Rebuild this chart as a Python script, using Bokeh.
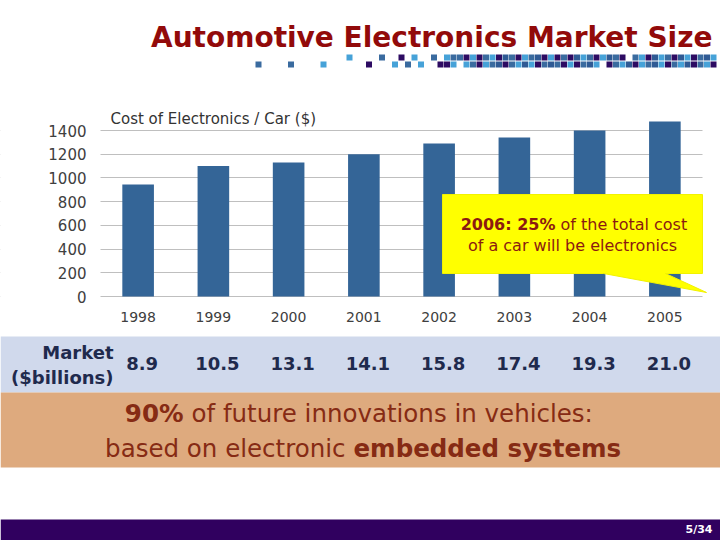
from bokeh.plotting import figure
from bokeh.models import Range1d, FixedTicker, LinearScale, LinearAxis, Grid
from bokeh.embed import file_html
from bokeh.resources import INLINE
from bokeh.core.properties import value

# ---------------- data ----------------
years = ["1998", "1999", "2000", "2001", "2002", "2003", "2004", "2005"]
cost_per_car = [945, 1100, 1130, 1200, 1290, 1340, 1400, 1475]
market_billions = [8.9, 10.5, 13.1, 14.1, 15.8, 17.4, 19.3, 21.0]
y_ticks = [0, 200, 400, 600, 800, 1000, 1200, 1400]

title_text = "Automotive Electronics Market Size"
chart_title = "Cost of Electronics / Car ($)"
callout_bold = "2006: 25%"
callout_rest = "of the total cost"
callout_line2 = "of a car will be electronics"
market_label = ["Market", "($billions)"]
banner1_bold, banner1_rest = "90%", "of future innovations in vehicles:"
banner2_rest, banner2_bold = "based on electronic", "embedded systems"
page_no = "5/34"

# decorative square strip (two rows), '.' = empty
sq_rows = [
    "..............b....a..c.b..a.baacbcabcdacbadcbcacdbacbdac.abcdbacdbcadbcdc",
    "a....a....b......c...b.a.b..ccb.bacbadcabdbcadacbcadb.cabdcbadbcabdcabcd",
]
sq_colors = {"a": "#3a6b9f", "b": "#46a2d8", "c": "#2d0b62", "d": "#2f5a94"}

FONT = value("DejaVu Sans")
idx = list(range(len(years)))

# page-pixel coordinate system for the whole slide
p = figure(width=720, height=540, x_range=Range1d(0, 720), y_range=Range1d(540, 0),
           output_backend="svg", toolbar_location=None, min_border=0,
           x_axis_location=None, y_axis_location=None)
p.grid.visible = False
p.outline_line_color = None
p.background_fill_color = "white"

# chart coordinate systems (categories / dollars) mapped onto the chart area
CH_L, CH_R, PX_ZERO, PX_1400 = 100, 702, 296, 130
cat_w = (CH_R - CH_L) / len(years)
p.extra_x_ranges = {"cx": Range1d(-0.5 - CH_L / cat_w, -0.5 + (720 - CH_L) / cat_w)}
p.extra_x_scales = {"cx": LinearScale()}
upp = 1400 / (PX_ZERO - PX_1400)
p.extra_y_ranges = {"cy": Range1d(-(540 - PX_ZERO) * upp, PX_ZERO * upp)}
p.extra_y_scales = {"cy": LinearScale()}

# ---------------- header ----------------
p.text(x=[712], y=[37], text=[title_text], text_align="right", text_baseline="middle",
       text_font=FONT, text_font_style="bold", text_font_size="28px", text_color="#920A0A")

sl, sr, st, sb, sc = [], [], [], [], []
for r, row in enumerate(sq_rows):
    for c, ch in enumerate(row):
        if ch in sq_colors:
            x0 = 255 + 6.5 * c
            if x0 > 716:
                continue
            y0 = 54 + 7 * r
            sl.append(x0); sr.append(x0 + 6); st.append(y0); sb.append(y0 + 6)
            sc.append(sq_colors[ch])
p.quad(left=sl, right=sr, top=st, bottom=sb, color=sc, line_color=None)

# ---------------- bar chart ----------------
yax = LinearAxis(y_range_name="cy", fixed_location=CH_L, ticker=FixedTicker(ticks=y_ticks))
xax = LinearAxis(x_range_name="cx", fixed_location=PX_ZERO, ticker=FixedTicker(ticks=idx),
                 major_label_overrides={i: y for i, y in zip(idx, years)})
for ax in (yax, xax):
    ax.axis_line_color = None
    ax.major_tick_line_color = None
    ax.minor_tick_line_color = None
    ax.major_tick_out = 0
    ax.major_tick_in = 0
    ax.major_label_text_font = "DejaVu Sans"
    ax.major_label_text_color = "#404040"
yax.major_label_standoff = 14
yax.major_label_text_font_size = "15px"
xax.major_label_standoff = 15
xax.major_label_text_font_size = "14px"
p.add_layout(yax, "left")
p.add_layout(xax, "below")
p.add_layout(Grid(dimension=1, ticker=yax.ticker, x_range_name="cx", y_range_name="cy",
                  grid_line_color="#bfbfbf", grid_line_width=1))
# keep gridlines inside the chart area
p.quad(left=[0, CH_R], right=[CH_L, 720], top=[120, 120], bottom=[300, 300],
       color="white", line_color=None)

p.vbar(x=idx, top=cost_per_car, width=0.42, color="#346597", line_color=None,
       x_range_name="cx", y_range_name="cy")

p.text(x=[110], y=[118], text=[chart_title], text_align="left", text_baseline="middle",
       text_font=FONT, text_font_size="15px", text_color="#333333")

# callout
p.patch(x=[442, 702, 702, 665, 706, 603, 442], y=[194, 194, 273, 273, 292, 273, 273],
        color="#FFFF00", line_color="#F2F200")
p.text(x=[555], y=[224], text=[callout_bold], text_align="right", text_baseline="middle",
       text_font=FONT, text_font_style="bold", text_font_size="16px", text_color="#8B1A10")
p.text(x=[560], y=[224], text=[callout_rest], text_align="left", text_baseline="middle",
       text_font=FONT, text_font_size="16px", text_color="#8B1A10")
p.text(x=[572], y=[245], text=[callout_line2], text_align="center", text_baseline="middle",
       text_font=FONT, text_font_size="16px", text_color="#8B1A10")

# ---------------- bands ----------------
p.quad(left=[0, 0, 0], right=[720, 720, 720], top=[336, 392, 519], bottom=[392, 467, 540],
       color=["#D0D9EC", "#DEAA7E", "#30005F"], line_color=None)

p.text(x=idx, y=[363] * len(years),
       text=[f"{v:.1f}" for v in market_billions], x_offset=4,
       text_align="center", text_baseline="middle", text_font=FONT,
       text_font_style="bold", text_font_size="18px", text_color="#1F2A4D",
       x_range_name="cx")
p.text(x=[113, 113], y=[352, 377], text=market_label, text_align="right",
       text_baseline="middle", text_font=FONT, text_font_style="bold",
       text_font_size="18px", text_color="#1F2A4D")

BC = "#862B14"
p.text(x=[183], y=[413], text=[banner1_bold], text_align="right", text_baseline="middle",
       text_font=FONT, text_font_style="bold", text_font_size="24.5px", text_color=BC)
p.text(x=[191], y=[413], text=[banner1_rest], text_align="left", text_baseline="middle",
       text_font=FONT, text_font_size="24.5px", text_color=BC)
p.text(x=[345], y=[448], text=[banner2_rest], text_align="right", text_baseline="middle",
       text_font=FONT, text_font_size="24.5px", text_color=BC)
p.text(x=[353], y=[448], text=[banner2_bold], text_align="left", text_baseline="middle",
       text_font=FONT, text_font_style="bold", text_font_size="24.5px", text_color=BC)
p.text(x=[712], y=[529], text=[page_no], text_align="right", text_baseline="middle",
       text_font=FONT, text_font_style="bold", text_font_size="11px", text_color="#FFFFFF")

open("out.html", "w").write(file_html(p, INLINE))
